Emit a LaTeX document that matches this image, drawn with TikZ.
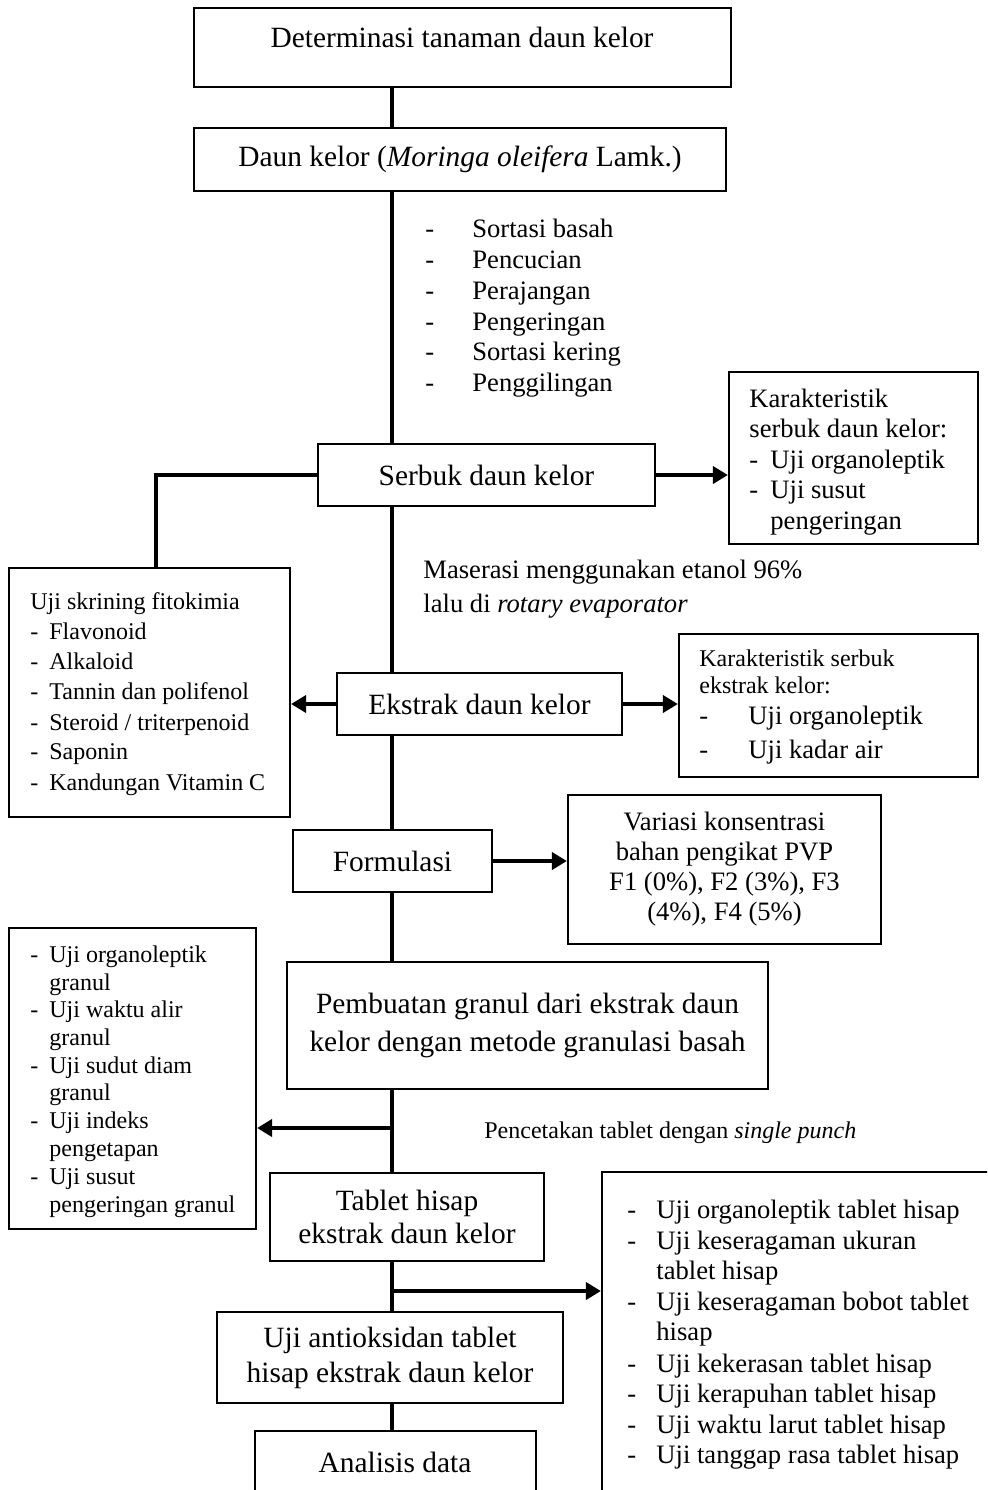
\documentclass[tikz,border=0pt]{standalone}
\usepackage{fontspec}
\setmainfont{Liberation Serif}
\usetikzlibrary{arrows.meta}
\newcommand\fttl{\fontsize{14.7}{19}\selectfont}
\newcommand\flst{\fontsize{13.3}{15.5}\selectfont}
\newcommand\fsml{\fontsize{12}{15}\selectfont}
\tikzset{
  box/.style={draw, line width=1.1pt, rectangle, inner sep=0pt, align=center, font=\fttl},
  link/.style={line width=2pt},
  arr/.style={line width=2pt, -{Triangle[length=7.5pt,width=8.5pt]}},
  item/.style={anchor=base west, inner sep=0pt, font=\flst},
  smallitem/.style={anchor=base west, inner sep=0pt, font=\fsml},
}
\begin{document}
\begin{tikzpicture}[x=0.5pt,y=-0.5pt]
\useasboundingbox (0,0) rectangle (987,1490);
\clip (0,0) rectangle (987,1490);
\coordinate (spine) at (392,0);
\coordinate (c1) at (392,1128);
\coordinate (c2) at (392,1291);

\node[box, minimum width=268.5pt, minimum height=39.5pt] (det) at (462.5,47.5) {};
\node[anchor=base, font=\fttl] (dettxt) at (462,47) {Determinasi tanaman daun kelor};
\node[box, minimum width=266pt, minimum height=31.5pt] (daun) at (460,159.5) {Daun kelor (\textit{Moringa oleifera} Lamk.)};
\node[box, minimum width=168.5pt, minimum height=31pt] (serbuk) at (486.5,475) {Serbuk daun kelor};
\node[box, minimum width=124.5pt, minimum height=86pt] (karak1) at (853.5,458) {};
\node[box, minimum width=140.5pt, minimum height=124.5pt] (left1) at (149.5,692.5) {};
\node[box, minimum width=142.5pt, minimum height=31pt] (ekstrak) at (479.5,704) {Ekstrak daun kelor};
\node[box, minimum width=149.5pt, minimum height=71.5pt] (karak2) at (828.5,705.5) {};
\node[box, minimum width=99.5pt, minimum height=31pt] (formulasi) at (392.5,861) {Formulasi};
\node[box, minimum width=156.5pt, minimum height=74.5pt, font={\fontsize{13.3}{15}\selectfont}] (variasi) at (724.5,869.5)
  {Variasi konsentrasi\\bahan pengikat PVP\\F1 (0\%), F2 (3\%), F3\\(4\%), F4 (5\%)};
\node[box, minimum width=240.5pt, minimum height=63.5pt] (pembuatan) at (527.5,1025.5)
  {Pembuatan granul dari ekstrak daun\\kelor dengan metode granulasi basah};
\node[box, minimum width=123.5pt, minimum height=150.5pt] (left2) at (132.5,1078.5) {};
\node[box, minimum width=137pt, minimum height=44pt, font={\fontsize{14.7}{16.5}\selectfont}] (tablet) at (407,1217)
  {Tablet hisap\\ekstrak daun kelor};
\node[box, minimum width=204pt, minimum height=169pt] (hasil) at (806,1341) {};
\node[box, minimum width=173pt, minimum height=45.5pt, font={\fontsize{14.7}{17.5}\selectfont}] (antioks) at (390,1357.5)
  {Uji antioksidan tablet\\hisap ekstrak daun kelor};
\node[box, minimum width=140.5pt, minimum height=39.5pt] (analisis) at (395.5,1470.5) {};
\node[anchor=base, font=\fttl] (anatxt) at (395,1472) {Analisis data};

\draw[link] (det.south -| spine) -- (daun.north -| spine);
\draw[link] (daun.south -| spine) -- (serbuk.north -| spine);
\draw[link] (serbuk.south -| spine) -- (ekstrak.north -| spine);
\draw[link] (ekstrak.south -| spine) -- (formulasi.north -| spine);
\draw[link] (formulasi.south -| spine) -- (pembuatan.north -| spine);
\draw[link] (pembuatan.south -| spine) -- (tablet.north -| spine);
\draw[link] (tablet.south -| spine) -- (antioks.north -| spine);
\draw[link] (antioks.south -| spine) -- (analisis.north -| spine);
\draw[link] (serbuk.west) -| ([xshift=3.25pt]left1.north);
\draw[arr] (serbuk.east) -- (serbuk.east -| karak1.west);
\draw[arr] (ekstrak.west) -- (ekstrak.west -| left1.east);
\draw[arr] (ekstrak.east) -- (ekstrak.east -| karak2.west);
\draw[arr] (formulasi.east) -- (formulasi.east -| variasi.west);
\draw[arr] (c1) -- (c1 -| left2.east);
\draw[arr] (c2) -- (c2 -| hasil.west);

\foreach \y/\t in {237/Sortasi basah, 268/Pencucian, 299/Perajangan, 330/Pengeringan, 360/Sortasi kering, 391/Penggilingan}{
  \node[item] (sd\y) at (425,\y) {-};
  \node[item] (st\y) at (472,\y) {\t};
}

\node[item] (k1a) at (749,407) {Karakteristik};
\node[item] (k1b) at (749,437.5) {serbuk daun kelor:};
\foreach \y/\t in {468/Uji organoleptik, 498.5/Uji susut}{
  \node[item] (k1d\y) at (749,\y) {-};
  \node[item] (k1t\y) at (770,\y) {\t};
}
\node[item] (k1c) at (770,529) {pengeringan};

\node[smallitem] (l1a) at (30,609) {Uji skrining fitokimia};
\foreach \y/\t in {639/Flavonoid, 669/Alkaloid, 699/Tannin dan polifenol, 730/{Steroid / triterpenoid}, 759/Saponin, 790/Kandungan Vitamin C}{
  \node[smallitem] (l1d\y) at (30,\y) {-};
  \node[smallitem] (l1t\y) at (49,\y) {\t};
}

\node[item] (mas1) at (423,578) {Maserasi menggunakan etanol 96\%};
\node[item] (mas2) at (423,612) {lalu di \textit{rotary evaporator}};

\node[smallitem] (k2a) at (699,666) {Karakteristik serbuk};
\node[smallitem] (k2b) at (699,693) {ekstrak kelor:};
\foreach \y/\t in {724/Uji organoleptik, 758/Uji kadar air}{
  \node[item] (k2d\y) at (699,\y) {-};
  \node[item] (k2t\y) at (748,\y) {\t};
}

\foreach \y/\t in {962/Uji organoleptik, 990/granul, 1017/Uji waktu alir, 1045/granul, 1073/Uji sudut diam, 1100/granul, 1128/Uji indeks, 1156/pengetapan, 1184/Uji susut, 1212/pengeringan granul}
  \node[smallitem] (l2t\y) at (49,\y) {\t};
\foreach \y in {962, 1017, 1073, 1128, 1184}
  \node[smallitem] (l2d\y) at (30,\y) {-};

\node[smallitem] (cetak) at (484,1138) {Pencetakan tablet dengan \textit{single punch}};

\foreach \y/\t in {1218/Uji organoleptik tablet hisap, 1249/Uji keseragaman ukuran, 1279/tablet hisap, 1310/Uji keseragaman bobot tablet, 1340/hisap, 1372/Uji kekerasan tablet hisap, 1402/Uji kerapuhan tablet hisap, 1433/Uji waktu larut tablet hisap, 1463/Uji tanggap rasa tablet hisap}
  \node[item] (ht\y) at (656,\y) {\t};
\foreach \y in {1218, 1249, 1310, 1372, 1402, 1433, 1463}
  \node[item] (hd\y) at (627,\y) {-};
\end{tikzpicture}
\end{document}
